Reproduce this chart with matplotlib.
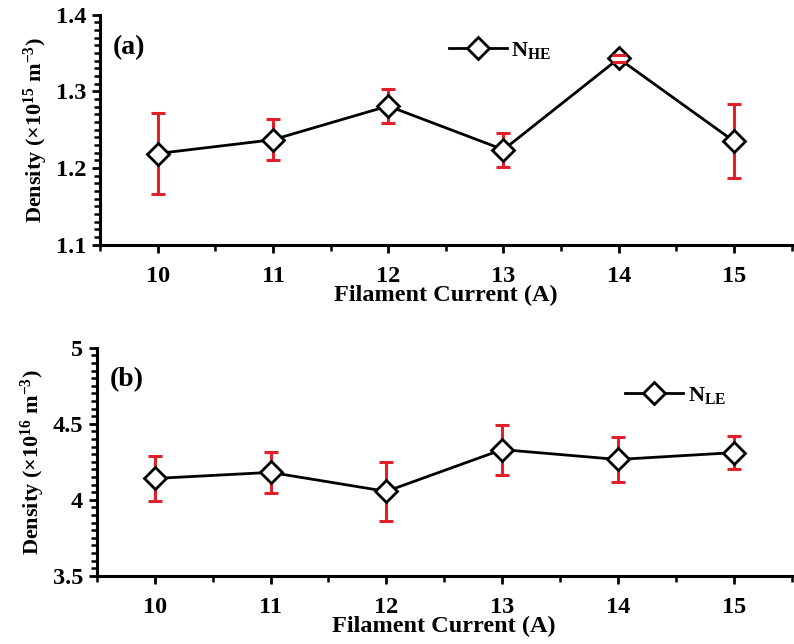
import matplotlib
matplotlib.use('Agg')
import matplotlib.pyplot as plt
from matplotlib.ticker import MultipleLocator, FormatStrFormatter

plt.rcParams['font.family'] = 'Liberation Serif'
plt.rcParams['font.weight'] = 'bold'
plt.rcParams['mathtext.fontset'] = 'custom'
plt.rcParams['mathtext.rm'] = 'Liberation Serif:bold'
plt.rcParams['mathtext.it'] = 'Liberation Serif:bold'
plt.rcParams['mathtext.bf'] = 'Liberation Serif:bold'
plt.rcParams['mathtext.default'] = 'rm'

### Data
current = [10, 11, 12, 13, 14, 15]

n_he = [1.219, 1.237, 1.281, 1.224, 1.343, 1.235]
n_he_err = [0.053, 0.027, 0.022, 0.022, 0.005, 0.048]

n_le = [4.14, 4.18, 4.055, 4.33, 4.265, 4.31]
n_le_err = [0.15, 0.135, 0.195, 0.165, 0.145, 0.11]

err_colour = '#e0202a'

fig = plt.figure(figsize=(7.94, 6.44), dpi=100)
ax_a = fig.add_axes([0.126, 0.620, 0.871, 0.357])
ax_b = fig.add_axes([0.122, 0.106, 0.875, 0.354])


def draw_panel(ax, y, yerr, label, tag, ylims, ymajor, yminor, yfmt, ylabel, leg_pos):
    # error bars first, caps on top of the markers
    eb = ax.errorbar(current, y, yerr=yerr, fmt='none', ecolor=err_colour,
                     elinewidth=2.2, capsize=5, capthick=2.2, zorder=2)
    for cap in eb[1]:
        cap.set_zorder(4)
    ax.plot(current, y, color='black', lw=2, marker='D', ms=11,
            mfc='white', mec='black', mew=2, zorder=3, label=label)

    ax.set_xlim(9.5, 15.5)
    ax.set_ylim(*ylims)
    ax.xaxis.set_major_locator(MultipleLocator(1))
    ax.xaxis.set_minor_locator(MultipleLocator(0.5))
    ax.yaxis.set_major_locator(MultipleLocator(ymajor))
    ax.yaxis.set_minor_locator(MultipleLocator(yminor))
    ax.yaxis.set_major_formatter(yfmt)

    for side in ['top', 'right']:
        ax.spines[side].set_visible(False)
    for side in ['left', 'bottom']:
        ax.spines[side].set_linewidth(2.2)

    ax.tick_params(which='major', direction='out', length=6, width=2, labelsize=17.5, pad=4)
    ax.tick_params(which='minor', direction='out', length=4, width=1.8)
    ax.tick_params(axis='x', which='major', pad=9)

    ax.set_xlabel('Filament Current (A)', fontsize=17.5, fontweight='bold', labelpad=-1)
    ax.set_ylabel(ylabel, fontsize=16, fontweight='bold', labelpad=4)
    ax.text(0.018, 0.83, tag, transform=ax.transAxes, fontsize=20, fontweight='bold')

    ax.legend(loc='center', bbox_to_anchor=leg_pos, frameon=False, fontsize=16,
              handlelength=2.6, handletextpad=0.2)


draw_panel(ax_a, n_he, n_he_err, r'N$_{\mathregular{HE}}$', '(a)', (1.1, 1.4), 0.1, 0.01,
           FormatStrFormatter('%.1f'), r'Density ($\times$10$^{15}$ m$^{-3}$)', (0.578, 0.845))
draw_panel(ax_b, n_le, n_le_err, r'N$_{\mathregular{LE}}$', '(b)', (3.5, 5.0), 0.5, 0.05,
           FormatStrFormatter('%g'), r'Density ($\times$10$^{16}$ m$^{-3}$)', (0.833, 0.79))

plt.savefig('out.png', dpi=100)
